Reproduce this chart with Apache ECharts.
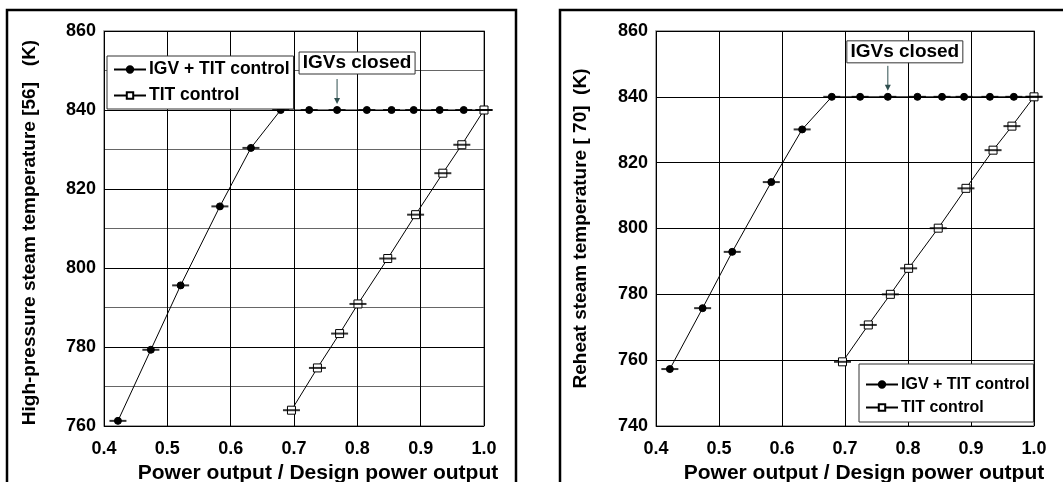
<!DOCTYPE html>
<html>
<head>
<meta charset="utf-8">
<script src="https://cdn.jsdelivr.net/npm/echarts@6/dist/echarts.min.js"></script>
<style>
html,body{margin:0;padding:0;background:#fff;}
#chart{width:1063px;height:482px;}
</style>
</head>
<body>
<div id="chart"></div>
<script>
// ---- data ----
var xIGV = [0.422, 0.474, 0.521, 0.583, 0.632, 0.679, 0.724, 0.768, 0.815, 0.854, 0.889, 0.930, 0.968, 1.0];
var hpIGV = [761.3, 779.3, 795.6, 815.6, 830.4, 840, 840, 840, 840, 840, 840, 840, 840, 840];
var xTIT = [0.696, 0.737, 0.772, 0.801, 0.848, 0.892, 0.935, 0.965, 1.0];
var hpTIT = [764.0, 774.7, 783.4, 790.9, 802.4, 813.5, 824.0, 831.2, 840];
var rhIGV = [757.3, 775.8, 792.9, 814.1, 830.1, 840, 840, 840, 840, 840, 840, 840, 840, 840];
var rhTIT = [759.5, 770.7, 780.0, 787.9, 800.1, 812.2, 823.8, 831.1, 840];
var seriesNames = ['IGV + TIT control', 'TIT control'];
var xTicks = ['0.4', '0.5', '0.6', '0.7', '0.8', '0.9', '1.0'];
var leftYName = 'High-pressure steam temperature [56]   (K)';
var rightYName = 'Reheat steam temperature [ 70]  (K)';
var xName = 'Power output / Design power output';
var annotText = 'IGVs closed';
var annotX = 0.768;
var annotY = 840;

function pairs(xs, ys) { return xs.map(function (x, i) { return [x, ys[i]]; }); }

var FONT = 'Liberation Sans, Arial, sans-serif';
var chart = echarts.init(document.getElementById('chart'), null, {renderer: 'canvas'});

function xAxis(gi, shift) {
  return {
    type: 'value', gridIndex: gi, min: 0.4, max: 1.0, interval: 0.1,
    axisLine: {show: false}, axisTick: {show: false},
    splitLine: {show: true, lineStyle: {color: '#000', width: 1}},
    axisLabel: {
      margin: 14, color: '#000', fontFamily: FONT, fontWeight: 'bold', fontSize: 18,
      formatter: function (v) { return xTicks[Math.round((v - 0.4) * 10)]; }
    },
    name: xName, nameLocation: 'middle', nameGap: 30,
    nameTextStyle: {color: '#000', fontFamily: FONT, fontWeight: 'bold', fontSize: 21, padding: [0, 0, 0, shift]}
  };
}
function yAxis(gi, min, minor, name, gap, pad) {
  return {
    type: 'value', gridIndex: gi, min: min, max: 860, interval: 20,
    axisLine: {show: false}, axisTick: {show: false},
    splitLine: {show: true, lineStyle: {color: '#000', width: 1}},
    minorTick: {show: false, splitNumber: 2},
    minorSplitLine: {show: minor, lineStyle: {color: '#666', width: 1}},
    axisLabel: {margin: 8, color: '#000', fontFamily: FONT, fontWeight: 'bold', fontSize: 18},
    name: name, nameLocation: 'middle', nameGap: gap,
    nameTextStyle: {color: '#000', fontFamily: FONT, fontWeight: 'bold', fontSize: 19, padding: pad}
  };
}
function lineSeries(name, data, idx, symbol, size) {
  return {
    type: 'line', name: name, xAxisIndex: idx, yAxisIndex: idx, data: data,
    symbol: symbol, symbolSize: size, showSymbol: true,
    lineStyle: {color: '#000', width: 1},
    itemStyle: {color: symbol === 'circle' ? '#000' : '#fff', borderColor: '#000', borderWidth: 1},
    z: 3, animation: false
  };
}
function barSeries(data, idx) {
  return {
    type: 'scatter', xAxisIndex: idx, yAxisIndex: idx, data: data,
    symbol: 'rect', symbolSize: [17, 2], itemStyle: {color: '#000'},
    silent: true, z: 4, animation: false
  };
}
function legend(pos, pad, gap, fs) {
  return Object.assign({
    orient: 'vertical', data: seriesNames,
    backgroundColor: '#fff', borderColor: '#333', borderWidth: 1,
    padding: pad, itemGap: gap, itemWidth: 32, itemHeight: 8,
    textStyle: {color: '#000', fontFamily: FONT, fontWeight: 'bold', fontSize: fs, lineHeight: 21, padding: [0, 0, 0, -2]},
    selectedMode: false
  }, pos);
}

var gridBase = {show: true, borderColor: '#888', borderWidth: 1.5, backgroundColor: 'transparent', outerBoundsMode: 'none', containLabel: false};
var option = {
  animation: false,
  backgroundColor: '#fff',
  grid: [
    Object.assign({left: 104, top: 31, width: 380, height: 395}, gridBase),
    Object.assign({left: 656, top: 31, width: 378, height: 395}, gridBase)
  ],
  xAxis: [xAxis(0, 48), xAxis(1, 38)],
  yAxis: [yAxis(0, 760, true, leftYName, 65, [0, 8, 0, 0]), yAxis(1, 740, false, rightYName, 66, [0, 0, 0, 0])],
  legend: [legend({left: 107, top: 56}, [3, 4, 3, 6], 5, 17.5), legend({left: 859, top: 364}, [10, 4, 4, 6], 2, 16)],
  series: [
    lineSeries(seriesNames[0], pairs(xIGV, hpIGV), 0, 'circle', 7),
    lineSeries(seriesNames[1], pairs(xTIT, hpTIT), 0, 'rect', 8),
    barSeries(pairs(xIGV, hpIGV), 0),
    barSeries(pairs(xTIT, hpTIT), 0),
    lineSeries(seriesNames[0], pairs(xIGV, rhIGV), 1, 'circle', 7),
    lineSeries(seriesNames[1], pairs(xTIT, rhTIT), 1, 'rect', 8),
    barSeries(pairs(xIGV, rhIGV), 1),
    barSeries(pairs(xTIT, rhTIT), 1)
  ]
};
chart.setOption(option);

function annotation(gi, boxDx, boxDy) {
  var p = chart.convertToPixel({gridIndex: gi}, [annotX, annotY]);
  var tipY = p[1] - 6;
  var ax = p[0];
  var els = [];
  els.push({type: 'line', shape: {x1: ax, y1: tipY - 25, x2: ax, y2: tipY - 4}, style: {stroke: '#2f4f4f', lineWidth: 1}, z: 10});
  els.push({type: 'polygon', shape: {points: [[ax - 3, tipY - 6], [ax + 3, tipY - 6], [ax, tipY]]}, style: {fill: '#2f4f4f'}, z: 10});
  var bx = ax + boxDx, by = tipY + boxDy;
  els.push({type: 'rect', shape: {x: bx, y: by, width: 116, height: 22}, style: {fill: '#fff', stroke: '#333', lineWidth: 1}, z: 10});
  els.push({type: 'text', x: bx + 58, y: by + 11, style: {text: annotText, fill: '#000', font: 'bold 19px ' + FONT, align: 'center', verticalAlign: 'middle'}, z: 11});
  return els;
}
var graphics = [
  {type: 'rect', shape: {x: 7, y: 10, width: 509, height: 500}, style: {fill: 'none', stroke: '#000', lineWidth: 2.5}, z: 0},
  {type: 'rect', shape: {x: 560, y: 10, width: 520, height: 500}, style: {fill: 'none', stroke: '#000', lineWidth: 2.5}, z: 0}
].concat(annotation(0, -38, -52)).concat(annotation(1, -41, -50));
chart.setOption({graphic: graphics});
</script>
</body>
</html>
